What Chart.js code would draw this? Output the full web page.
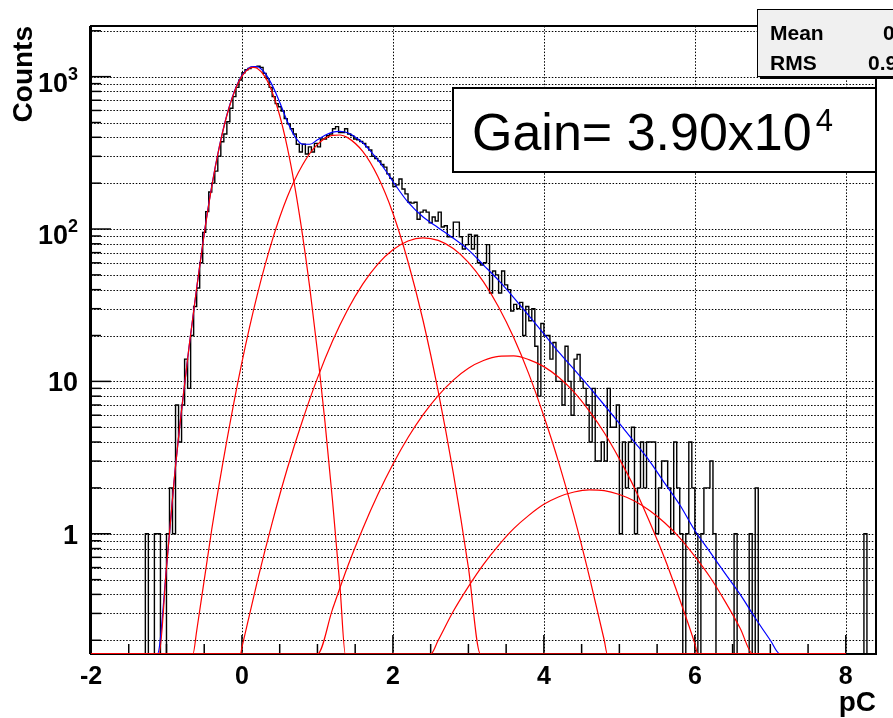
<!DOCTYPE html>
<html>
<head>
<meta charset="utf-8">
<title>Charge spectrum</title>
<script src="https://cdn.jsdelivr.net/npm/chart.js@4.4.1/dist/chart.umd.min.js"></script>
<style>
  html, body { margin: 0; padding: 0; background: #fff; }
  #wrap { width: 893px; height: 718px; }
</style>
</head>
<body>
<div id="wrap"><canvas id="spectrum" width="893" height="718"></canvas></div>
<script>
// Axis ranges
const X_MIN = -2;
const X_MAX = 8.4;
const Y_MIN = 0.1625;
const Y_MAX = 2150;

// Histogram: counts per 0.04 pC bin, starting at -2 pC
const histStart = -2;
const binWidth = 0.04;
const counts = [
  0, 0, 0, 0, 0, 0, 0, 0, 0, 0,
  0, 0, 0, 0, 0, 0, 0, 0, 1, 0,
  0, 1, 1, 0, 0, 1, 2, 1, 7, 4,
  7, 14, 9, 20, 31, 41, 60, 95, 130, 175,
  200, 240, 300, 374, 420, 506, 620, 740, 850, 950,
  1060, 1110, 1130, 1150, 1160, 1170, 1150, 1050, 970, 850,
  740, 665, 635, 595, 530, 490, 455, 420, 360, 320,
  360, 311, 346, 320, 365, 346, 390, 390, 410, 420,
  455, 470, 430, 430, 455, 420, 410, 390, 385, 375,
  365, 346, 330, 300, 290, 280, 265, 255, 230, 215,
  190, 195, 213, 183, 170, 150, 148, 150, 116, 129,
  133, 129, 110, 120, 113, 129, 103, 105, 89, 89,
  111, 111, 89, 74, 79, 92, 74, 91, 60, 58,
  60, 79, 38, 53, 50, 38, 53, 43, 40, 29,
  32, 30, 33, 20, 31, 25, 30, 17, 8, 24,
  20, 20, 14, 18, 10, 10, 7, 17, 10, 6,
  14, 15, 10, 9, 7, 4, 9, 3, 3, 4,
  3, 9, 5, 5, 7, 1, 4, 2, 4, 5,
  1, 2, 4, 2, 4, 4, 4, 1, 2, 3,
  3, 2, 1, 4, 2, 1, 0, 1, 4, 2,
  1, 0, 1, 2, 2, 3, 1, 0, 0, 0,
  0, 0, 0, 1, 0, 0, 0, 0, 1, 0,
  2, 0, 0, 0, 0, 0, 0, 0, 0, 0,
  0, 0, 0, 0, 0, 0, 0, 0, 0, 0,
  0, 0, 0, 0, 0, 0, 0, 0, 0, 0,
  0, 0, 0, 0, 0, 0, 1, 0, 0, 0
];

// Total fit (blue); 0 means below the axis
const fitX = [-2, -1.12, -1.0, -0.9, -0.8, -0.7, -0.6, -0.5, -0.4, -0.3, -0.2, -0.1,
  0, 0.1, 0.15, 0.2, 0.3, 0.4, 0.5, 0.6, 0.7, 0.8, 0.9, 1.0, 1.1, 1.2, 1.3, 1.4, 1.5,
  1.6, 1.7, 1.8, 1.9, 2.0, 2.2, 2.4, 2.6, 2.8, 3.0, 3.2, 3.4, 3.6, 3.8, 4.0, 4.2,
  4.4, 4.6, 4.8, 5.0, 5.2, 5.4, 5.6, 5.8, 6.0, 6.2, 6.4, 6.6, 6.8, 7.0, 7.13, 8];
const fitY = [0, 0, 0.6, 2.2, 6.5, 17, 41, 94, 192, 347, 560, 802,
  1020, 1150, 1165, 1165, 1062, 880, 680, 510, 406, 361, 360, 385, 412, 432, 438, 428, 402,
  368, 326, 284, 243, 205, 150, 120, 102, 87, 73, 58, 46, 35.5, 27, 20.5, 15.5,
  12, 9.2, 7.0, 5.3, 4.0, 3.0, 2.15, 1.55, 1.05, 0.76, 0.55, 0.40, 0.28, 0.2, 0, 0];

// Fit components (red): pedestal and 1..4 photoelectron peaks
const pedX = [-2, -1.1, -1.0, -0.9, -0.8, -0.7, -0.6, -0.5, -0.4, -0.3, -0.2, -0.1, 0,
  0.1, 0.15, 0.2, 0.3, 0.4, 0.5, 0.6, 0.7, 0.8, 0.9, 1.0, 1.1, 1.2, 1.3, 1.37, 8];
const pedY = [0, 0, 0.6, 2.2, 6.5, 17, 41, 93, 190, 345, 556, 794, 1007,
  1135, 1150, 1135, 1007, 794, 556, 345, 190, 93, 40.6, 15.7, 5.4, 1.64, 0.44, 0, 0];

const pe1X = [-2, -0.65, -0.6, -0.4, -0.2, 0, 0.2, 0.4, 0.6, 0.8, 1.0, 1.2, 1.3, 1.4,
  1.6, 1.8, 2.0, 2.2, 2.4, 2.6, 2.8, 3.0, 3.16, 8];
const pe1Y = [0, 0, 0.23, 1.07, 4.1, 13.4, 36.6, 84, 162, 262, 359, 412, 414, 398,
  323, 221, 127, 61, 25, 8.6, 2.5, 0.6, 0, 0];

const pe2X = [-2, -0.02, 0, 0.2, 0.4, 0.6, 0.8, 1.0, 1.2, 1.4, 1.6, 1.8, 2.0, 2.2, 2.4,
  2.6, 2.8, 3.0, 3.2, 3.4, 3.6, 3.8, 4.0, 4.2, 4.4, 4.6, 4.8, 4.84, 8];
const pe2Y = [0, 0, 0.18, 0.48, 1.18, 2.67, 5.5, 10.5, 18.4, 29.5, 43.5, 58.9, 73.1, 83.5, 87.5,
  84.2, 74.4, 60.4, 45, 30.8, 19.4, 11.2, 5.9, 2.9, 1.3, 0.53, 0.2, 0, 0];

const pe3X = [-2, 1.0, 1.2, 1.4, 1.6, 1.8, 2.0, 2.2, 2.4, 2.6, 2.8, 3.0, 3.2, 3.4, 3.6,
  3.8, 4.0, 4.2, 4.4, 4.6, 4.8, 5.0, 5.2, 5.4, 5.6, 5.8, 6.0, 6.04, 8];
const pe3Y = [0, 0, 0.32, 0.61, 1.08, 1.81, 2.86, 4.28, 6.05, 8.07, 10.2, 12.2, 13.7, 14.6, 14.7,
  13.9, 12.5, 10.6, 8.5, 6.4, 4.6, 3.1, 2.0, 1.2, 0.69, 0.37, 0.19, 0, 0];

const pe4X = [-2, 2.5, 2.6, 2.8, 3.0, 3.2, 3.4, 3.6, 3.8, 4.0, 4.2, 4.4, 4.6, 4.8, 5.0,
  5.2, 5.4, 5.6, 5.8, 6.0, 6.2, 6.4, 6.6, 6.77, 8];
const pe4Y = [0, 0, 0.2, 0.31, 0.45, 0.63, 0.84, 1.08, 1.32, 1.56, 1.75, 1.88, 1.94, 1.92, 1.81,
  1.64, 1.42, 1.18, 0.94, 0.71, 0.52, 0.36, 0.24, 0, 0];

// Ticks and labels
const xTickValues = [-2, 0, 2, 4, 6, 8];
const yLabelValues = [1, 10, 100, 1000];
const yLabelBase = ['1', '10', '10', '10'];
const yLabelExp = ['', '', '2', '3'];
const statsRows = [['Mean', '0'], ['RMS', '0.9']];
const gainText = 'Gain= 3.90x10';
const gainExp = '4';

const FONT = '"Liberation Sans", Arial, Helvetica, sans-serif';

// y grid at 1..9 x 10^n inside the range
const yGridValues = [];
for (let e = -1; e <= 3; e++) {
  for (let m = 1; m <= 9; m++) {
    const v = m * Math.pow(10, e);
    if (v >= Y_MIN && v <= Y_MAX) yGridValues.push(v);
  }
}

function toPoints(xs, ys) {
  return xs.map((x, i) => ({ x: x, y: Math.max(ys[i], Y_MIN) }));
}

const histPoints = counts.map((c, i) => ({ x: histStart + i * binWidth, y: Math.max(c, Y_MIN) }));
histPoints.push({ x: histStart + counts.length * binWidth, y: Math.max(counts[counts.length - 1], Y_MIN) });

function curve(label, xs, ys, color) {
  return {
    label: label,
    data: toPoints(xs, ys),
    borderColor: color,
    borderWidth: 1.2,
    pointRadius: 0,
    fill: false,
    cubicInterpolationMode: 'monotone'
  };
}

const bgPlugin = {
  id: 'bg',
  beforeDraw(chart) {
    const ctx = chart.ctx;
    ctx.save();
    ctx.fillStyle = '#fff';
    ctx.fillRect(0, 0, chart.width, chart.height);
    ctx.restore();
  }
};

// Dotted grid, frame, inward tick marks and the y labels with exponents
const framePlugin = {
  id: 'frame',
  beforeDatasetsDraw(chart) {
    const { ctx, chartArea: a, scales: { x, y } } = chart;
    ctx.save();

    // grid
    ctx.strokeStyle = '#000';
    ctx.lineWidth = 1;
    ctx.setLineDash([1.5, 1.7]);
    xTickValues.forEach(v => {
      const px = Math.round(x.getPixelForValue(v)) + 0.5;
      ctx.beginPath();
      ctx.moveTo(px, a.top);
      ctx.lineTo(px, a.bottom);
      ctx.stroke();
    });
    yGridValues.forEach(v => {
      const py = Math.round(y.getPixelForValue(v)) + 0.5;
      ctx.beginPath();
      ctx.moveTo(a.left, py);
      ctx.lineTo(a.right, py);
      ctx.stroke();
    });
    ctx.setLineDash([]);

    // tick marks
    ctx.lineWidth = 1.5;
    for (let v = X_MIN; v <= X_MAX + 1e-9; v += 0.5) {
      const px = x.getPixelForValue(v);
      const len = xTickValues.includes(v) ? 19 : 10;
      ctx.beginPath();
      ctx.moveTo(px, a.bottom);
      ctx.lineTo(px, a.bottom - len);
      ctx.stroke();
    }
    yGridValues.forEach(v => {
      const py = y.getPixelForValue(v);
      const len = yLabelValues.includes(v) ? 20 : 10;
      ctx.beginPath();
      ctx.moveTo(a.left, py);
      ctx.lineTo(a.left + len, py);
      ctx.stroke();
    });

    // frame
    ctx.lineWidth = 2;
    ctx.strokeRect(a.left, a.top, a.right - a.left, a.bottom - a.top);
    ctx.lineWidth = 3;
    ctx.beginPath();
    ctx.moveTo(a.left - 0.5, a.top);
    ctx.lineTo(a.left - 0.5, a.bottom);
    ctx.stroke();

    // y labels: base number plus raised exponent
    ctx.fillStyle = '#000';
    ctx.textBaseline = 'alphabetic';
    const right = a.left - 13;
    yLabelValues.forEach((v, i) => {
      const py = y.getPixelForValue(v);
      let baseRight = right;
      if (yLabelExp[i]) {
        ctx.font = 'bold 18px ' + FONT;
        const ew = ctx.measureText(yLabelExp[i]).width;
        ctx.textAlign = 'left';
        ctx.fillText(yLabelExp[i], right - ew, py + 3);
        baseRight = right - ew;
      }
      ctx.font = 'bold 27px ' + FONT;
      ctx.textAlign = 'right';
      ctx.fillText(yLabelBase[i], baseRight, py + (yLabelExp[i] ? 15 : 10));
    });
    ctx.restore();
  }
};

// Stats box (cut by the top right corner) and the gain label
const boxesPlugin = {
  id: 'boxes',
  afterDraw(chart) {
    const ctx = chart.ctx;
    ctx.save();
    ctx.fillStyle = '#000';
    ctx.fillRect(760, 12, 140, 67);
    ctx.fillStyle = '#f0f0f0';
    ctx.fillRect(757.5, 9.5, 140, 67);
    ctx.strokeStyle = '#000';
    ctx.lineWidth = 1;
    ctx.strokeRect(757.5, 9.5, 140, 67);
    ctx.fillStyle = '#000';
    ctx.font = 'bold 21px ' + FONT;
    ctx.textBaseline = 'alphabetic';
    ctx.fillText(statsRows[0][0], 770, 40);
    ctx.fillText(statsRows[0][1], 883, 40);
    ctx.fillText(statsRows[1][0], 770, 70);
    ctx.fillText(statsRows[1][1], 868, 70);

    ctx.fillStyle = '#fff';
    ctx.fillRect(453, 88, 423, 84);
    ctx.lineWidth = 2;
    ctx.strokeRect(453, 88, 423, 84);
    ctx.fillStyle = '#000';
    ctx.font = '52px ' + FONT;
    ctx.fillText(gainText, 472, 150);
    const w = ctx.measureText(gainText).width;
    ctx.font = '31px ' + FONT;
    ctx.fillText(gainExp, 472 + w + 4, 131);
    ctx.restore();
  }
};

new Chart(document.getElementById('spectrum'), {
  type: 'line',
  data: {
    datasets: [
      curve('4 p.e.', pe4X, pe4Y, '#ff0000'),
      curve('3 p.e.', pe3X, pe3Y, '#ff0000'),
      curve('2 p.e.', pe2X, pe2Y, '#ff0000'),
      curve('1 p.e.', pe1X, pe1Y, '#ff0000'),
      curve('pedestal', pedX, pedY, '#ff0000'),
      {
        label: 'fit',
        data: toPoints(fitX, fitY),
        borderColor: '#0000ff',
        borderWidth: 1.2,
        pointRadius: 0,
        fill: false,
        cubicInterpolationMode: 'monotone'
      },
      {
        label: 'data',
        data: histPoints,
        stepped: true,
        borderColor: '#000',
        borderWidth: 1.4,
        pointRadius: 0,
        fill: false
      }
    ]
  },
  options: {
    responsive: false,
    devicePixelRatio: 1,
    animation: false,
    events: [],
    layout: { padding: { left: 0, right: 17, top: 26, bottom: 0 } },
    plugins: {
      legend: { display: false },
      tooltip: { enabled: false }
    },
    scales: {
      x: {
        type: 'linear',
        min: X_MIN,
        max: X_MAX,
        afterBuildTicks: s => { s.ticks = xTickValues.map(v => ({ value: v })); },
        afterFit: s => { s.height = 64; },
        grid: { display: false, drawTicks: false },
        border: { display: false },
        ticks: {
          color: '#000',
          font: { family: FONT, size: 25, weight: 'bold' },
          padding: 8,
          maxRotation: 0,
          autoSkip: false,
          callback: v => String(v)
        },
        title: {
          display: true,
          text: 'pC',
          align: 'end',
          color: '#000',
          font: { family: FONT, size: 28, weight: 'bold', lineHeight: 1 },
          padding: { top: 0, bottom: 1 }
        }
      },
      y: {
        type: 'logarithmic',
        min: Y_MIN,
        max: Y_MAX,
        afterBuildTicks: s => { s.ticks = yGridValues.map(v => ({ value: v })); },
        afterFit: s => { s.width = 91; },
        grid: { display: false, drawTicks: false },
        border: { display: false },
        ticks: { display: false },
        title: {
          display: true,
          text: 'Counts',
          align: 'end',
          color: '#000',
          font: { family: FONT, size: 28, weight: 'bold', lineHeight: 1 },
          padding: { top: 10, bottom: 0 }
        }
      }
    }
  },
  plugins: [bgPlugin, framePlugin, boxesPlugin]
});
</script>
</body>
</html>
